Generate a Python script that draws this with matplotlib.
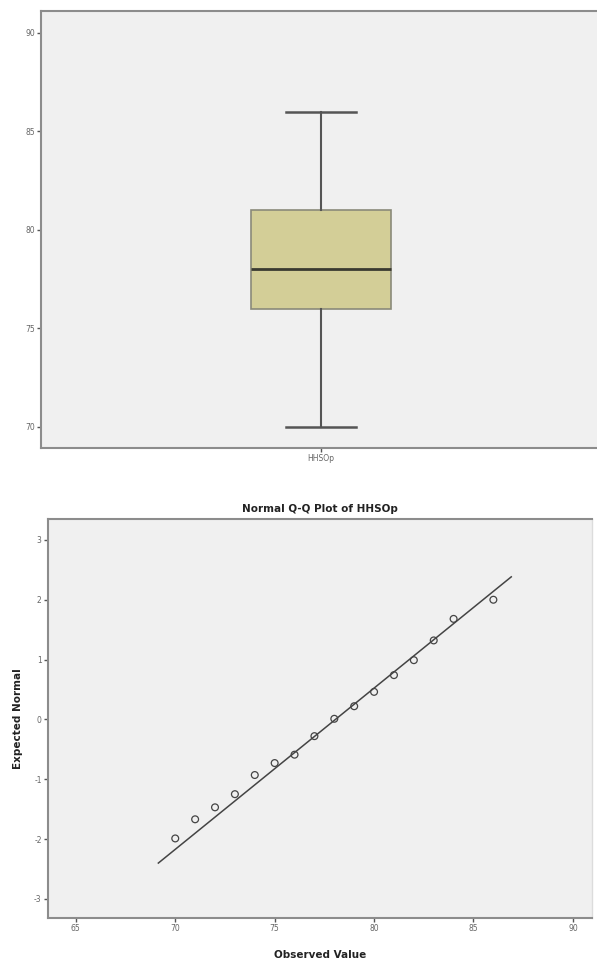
import numpy as np
import matplotlib
matplotlib.use("Agg")
import matplotlib.pyplot as plt

plt.rcParams["axes.unicode_minus"] = False

# Box plot summary of HHSOp
box_label = "HHSOp"
box_min = 70
box_q1 = 76
box_median = 78
box_q3 = 81
box_max = 86

# Normal Q-Q plot points
observed = [70, 71, 72, 73, 74, 75, 76, 77, 78, 79, 80, 81, 82, 83, 84, 86]
expected = [-1.99, -1.67, -1.47, -1.25, -0.93, -0.73, -0.59, -0.28, 0.01,
            0.22, 0.46, 0.74, 0.99, 1.32, 1.68, 2.0]
# reference line (mean, sd) and its x range
line_mean = 78.06
line_sd = 3.71
line_x = [69.15, 86.9]

top_ticks = [70, 75, 80, 85, 90]
qq_xticks = [65, 70, 75, 80, 85, 90]
qq_yticks = [-3, -2, -1, 0, 1, 2, 3]

bg = "#f0f0f0"
spine_col = "#8c8c8c"
tick_col = "#666666"

fig = plt.figure(figsize=(5.97, 9.65), dpi=100)


def style_axes(ax):
    ax.set_facecolor(bg)
    for side in ["top", "left", "bottom", "right"]:
        ax.spines[side].set_color(spine_col)
        ax.spines[side].set_linewidth(1.5)
    ax.tick_params(direction="out", length=3, width=1, color="#555555",
                   labelsize=5.5, labelcolor=tick_col, pad=1.5)


# ---- top: boxplot
ax1 = fig.add_axes([0.0687, 0.5358, 0.9379, 0.4533])
style_axes(ax1)
ax1.spines["right"].set_visible(False)
ax1.bxp([{"med": box_median, "q1": box_q1, "q3": box_q3,
          "whislo": box_min, "whishi": box_max, "fliers": [],
          "label": box_label}],
        positions=[0], widths=0.5, patch_artist=True, showfliers=False,
        boxprops=dict(facecolor="#d3ce97", edgecolor="#8a8a7a", linewidth=1.2),
        medianprops=dict(color="#3a3a30", linewidth=2),
        whiskerprops=dict(color="#555555", linewidth=1.5),
        capprops=dict(color="#555555", linewidth=1.8),
        capwidths=0.25)
ax1.set_xlim(-1, 1)
ax1.set_ylim(68.93, 91.14)
ax1.set_yticks(top_ticks)
ax1.set_xticks([0])
ax1.set_xticklabels([box_label])

# ---- bottom: normal Q-Q plot
ax2 = fig.add_axes([0.0804, 0.0487, 0.9112, 0.4135])
style_axes(ax2)
ax2.spines["right"].set_color("#dcdcdc")
ax2.spines["right"].set_linewidth(1)
lx = np.array(line_x)
ax2.plot(lx, (lx - line_mean) / line_sd, color="#444444", linewidth=1.1)
ax2.scatter(observed, expected, s=24, facecolors="none",
            edgecolors="#444444", linewidths=0.9, zorder=3)
ax2.set_xlim(63.6, 90.96)
ax2.set_ylim(-3.32, 3.35)
ax2.set_xticks(qq_xticks)
ax2.set_yticks(qq_yticks)
ax2.set_title("Normal Q-Q Plot of HHSOp", fontsize=7.5, fontweight="bold",
              color="#222222", pad=5)
ax2.set_xlabel("Observed Value", fontsize=7.5, fontweight="bold",
               color="#222222", labelpad=12)
ax2.set_ylabel("Expected Normal", fontsize=7.5, fontweight="bold",
               color="#222222", labelpad=8)

fig.savefig("out.png", dpi=100)
